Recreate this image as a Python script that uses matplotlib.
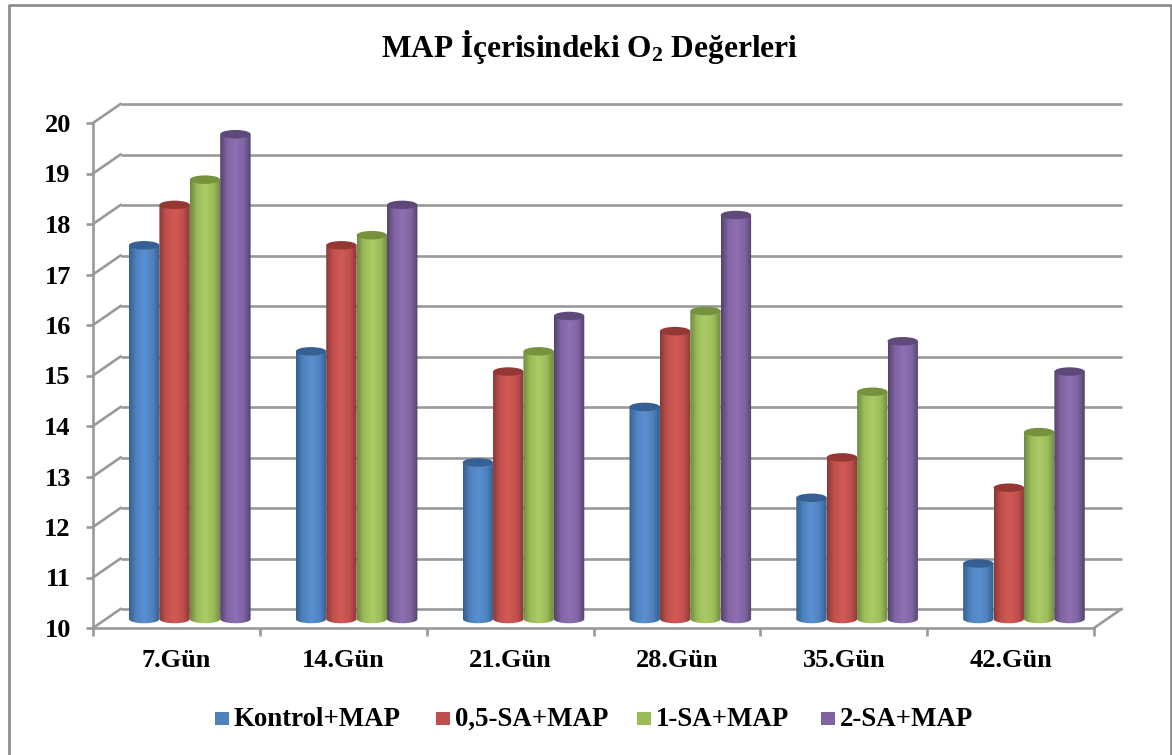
import numpy as np
import matplotlib
matplotlib.use("Agg")
import matplotlib.pyplot as plt
from matplotlib.colors import LinearSegmentedColormap
from matplotlib.lines import Line2D
from matplotlib.patches import Ellipse, Polygon, Rectangle

plt.rcParams["font.family"] = ["Liberation Serif", "DejaVu Serif"]
plt.rcParams["font.weight"] = "bold"
plt.rcParams["mathtext.default"] = "regular"

days = ["7.Gün", "14.Gün", "21.Gün", "28.Gün", "35.Gün", "42.Gün"]
series_names = ["Kontrol+MAP", "0,5-SA+MAP", "1-SA+MAP", "2-SA+MAP"]
kontrol = [17.4, 15.3, 13.1, 14.2, 12.4, 11.1]
sa_05 = [18.2, 17.4, 14.9, 15.7, 13.2, 12.6]
sa_1 = [18.7, 17.6, 15.3, 16.1, 14.5, 13.7]
sa_2 = [19.6, 18.2, 16.0, 18.0, 15.5, 14.9]
y_ticks = list(range(10, 21))

# colours: main, edge of the cylinder, highlight, top cap
blue = ("#4F81BD", "#34608F", "#5A90D2", "#376092")
red = ("#C0504D", "#8A3836", "#D25A56", "#953735")
green = ("#9BBB59", "#6E8A40", "#AACC66", "#76923C")
purple = ("#8064A2", "#55426E", "#8E70B4", "#5F497A")

W, H = 1172, 755
fig = plt.figure(figsize=(W / 100, H / 100), dpi=100)
fig.patch.set_facecolor("white")

# outer frame, the bottom edge runs off the picture
frame_x = [9 / W, 9 / W, 1171 / W, 1171 / W]
frame_y = [0, 1 - 5 / H, 1 - 5 / H, 0]
fig.add_artist(Line2D(frame_x, frame_y, transform=fig.transFigure, color="#8a8a8a", linewidth=1.9))

ax = fig.add_axes([93 / W, 1 - 628 / H, (1094 - 93) / W, (628 - 123) / H])
px_x = 1001 / 6
px_y = 505 / 10
grid_col = "#999999"
lw = 1.9

# depth of the 3D box
depth_x = 27.5 / px_x
depth_y = 19 / px_y

for v in y_ticks:
    # back wall and side wall lines
    ax.plot([depth_x, 6 + depth_x], [v + depth_y, v + depth_y], color=grid_col, lw=lw,
            clip_on=False, zorder=1, solid_capstyle="butt")
    ax.plot([0, depth_x], [v, v + depth_y], color=grid_col, lw=lw, clip_on=False, zorder=1)
ax.plot([6, 6 + depth_x], [10, 10 + depth_y], color=grid_col, lw=lw, clip_on=False, zorder=1)

# bars sit half way into the box
shift_x = 36 / px_x
shift_y = 9 / px_y
bar_w = 30.4 / px_x
cap_h = 8.5 / px_y
t = np.linspace(0, np.pi, 40)

all_series = [kontrol, sa_05, sa_1, sa_2]
palette = [blue, red, green, purple]
for j, (vals, cols) in enumerate(zip(all_series, palette)):
    main, dark, light, cap = cols
    cmap = LinearSegmentedColormap.from_list("c", [(0, dark), (0.22, main), (0.5, light), (0.78, main), (1, dark)])
    grad = np.linspace(0, 1, 64).reshape(1, -1)
    x = np.arange(6) + shift_x + (j + 0.5) * bar_w
    bars = ax.bar(x, vals, width=bar_w, bottom=0, color=main, label=series_names[j],
                  zorder=3 + j, linewidth=0)
    for rect, xc, v in zip(bars, x, vals):
        rect.set_visible(False)
        top = v + shift_y
        base = 10 + shift_y
        xs = np.concatenate([xc - bar_w / 2 * np.cos(t), [xc + bar_w / 2, xc - bar_w / 2]])
        ys = np.concatenate([base - cap_h / 2 * np.sin(t), [top, top]])
        body = Polygon(np.column_stack([xs, ys]), closed=True, transform=ax.transData)
        im = ax.imshow(grad, extent=[xc - bar_w / 2, xc + bar_w / 2, base - cap_h, top],
                       aspect="auto", cmap=cmap, zorder=3 + j, clip_on=True)
        im.set_clip_path(body)
        ax.add_patch(Ellipse((xc, top), bar_w, cap_h, facecolor=cap, edgecolor="none",
                             zorder=3 + j + 0.5, clip_on=False))

ax.set_xlim(0, 6)
ax.set_ylim(10, 20)
for side in ["top", "right"]:
    ax.spines[side].set_visible(False)
for side in ["left", "bottom"]:
    ax.spines[side].set_color(grid_col)
    ax.spines[side].set_linewidth(lw)
ax.patch.set_alpha(0)

ax.set_yticks(y_ticks)
ax.tick_params(axis="y", length=5, width=lw, color=grid_col, labelsize=19, pad=11)
ax.set_xticks(range(7))
ax.set_xticklabels([])
ax.set_xticks(np.arange(6) + 0.5, days, minor=True)
ax.tick_params(axis="x", which="major", length=6, width=lw, color=grid_col)
ax.tick_params(axis="x", which="minor", length=0, labelsize=19, pad=15)

fig.text(590 / W, 1 - 47 / H, "MAP İçerisindeki O$_2$ Değerleri", ha="center", va="center",
         fontsize=22.6, fontweight="bold")

leg_x = [215, 436, 637, 821]
for name, cols, lx in zip(series_names, palette, leg_x):
    fig.add_artist(Rectangle((lx / W, 1 - 725 / H), 14 / W, 13 / H, transform=fig.transFigure,
                             facecolor=cols[0], edgecolor="none"))
    fig.text((lx + 19) / W, 1 - 719 / H, name, ha="left", va="center", fontsize=19.4,
             fontweight="bold")

fig.savefig("out.png", dpi=100)
